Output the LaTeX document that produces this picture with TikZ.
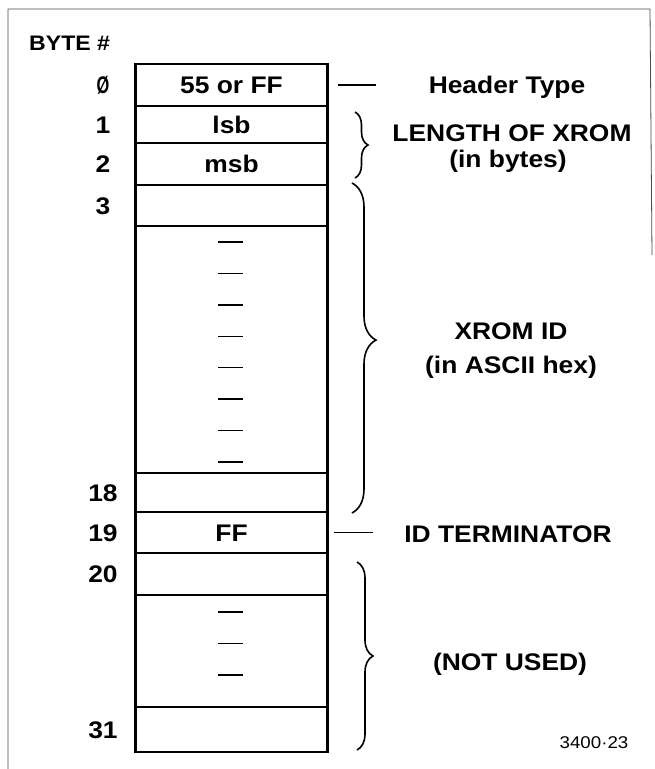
\documentclass[tikz,border=0pt]{standalone}
\usepackage{fontspec}
\setmainfont[FakeStretch=1.1]{Liberation Sans}
\usetikzlibrary{decorations.pathreplacing}
\begin{document}
\begin{tikzpicture}[x=1pt,y=-1pt,
  rowbox/.style={draw, line width=2.2pt, minimum width=192pt, inner sep=0pt,
    font=\bfseries\fontsize{24}{28}\selectfont, text height=17pt, text depth=0pt},
  lbl/.style={inner sep=0pt, font=\bfseries\fontsize{24}{28}\selectfont,
    text height=17pt, text depth=0pt},
  tick/.style={line width=1.4pt},
  lead/.style={line width=1.4pt},
  curly/.style={line width=1.6pt, decorate, decoration={brace, amplitude=#1}},
  frame/.style={line width=0.8pt, black!70}
]
\useasboundingbox (0,0) rectangle (654,769);
\fill[white] (0,0) rectangle (654,769);
% outer frame
\draw[frame] (8,769) -- (8,9) -- (650,9) -- (652,255);
% title
\node[lbl, font=\bfseries\fontsize{21}{24}\selectfont, text height=15pt, anchor=west] (byte) at (29,43) {BYTE \#};
% memory rows
\node[rowbox, minimum height=42pt] (r0) at (231.5,85) {55 or FF};
\node[rowbox, minimum height=37pt] (r1) at (231.5,124.5) {lsb};
\node[rowbox, minimum height=42pt] (r2) at (231.5,164) {msb};
\node[rowbox, minimum height=41pt] (r3) at (231.5,205.5) {};
\node[rowbox, minimum height=247pt] (d1) at (231.5,349.5) {};
\node[rowbox, minimum height=39pt] (r18) at (231.5,492.5) {};
\node[rowbox, minimum height=41pt] (r19) at (231.5,532.5) {FF};
\node[rowbox, minimum height=42pt] (r20) at (231.5,574) {};
\node[rowbox, minimum height=112pt] (d2) at (231.5,651) {};
\node[rowbox, minimum height=45pt] (r31) at (231.5,729.5) {};
% dashes
\foreach \y in {242,273.4,304.8,336.2,367.6,399,430.4,461.8}
  \draw[tick] (218,\y) -- (243,\y);
\foreach \y in {612,643.5,675}
  \draw[tick] (218,\y) -- (243,\y);
% byte numbers
\node[lbl] (n0) at (103,85) {\scalebox{0.62}[1]{Ø}};
\node[lbl] (n1) at (103,124.5) {1};
\node[lbl] (n2) at (103,164) {2};
\node[lbl] (n3) at (103,205.5) {3};
\node[lbl] (n18) at (103,492.5) {18};
\node[lbl] (n19) at (103,532.5) {19};
\node[lbl] (n20) at (103,574) {20};
\node[lbl] (n31) at (103,729.5) {31};
% right-hand labels
\node[lbl] (hdr) at (507,85) {Header Type};
\node[lbl] (len) at (512,133) {LENGTH OF XROM};
\node[lbl] (lenb) at (508,159) {(in bytes)};
\node[lbl] (xid) at (511,331) {XROM ID};
\node[lbl] (xidb) at (511,364.5) {(in ASCII hex)};
\node[lbl] (term) at (508,534) {ID TERMINATOR};
\node[lbl] (nu) at (510,662) {(NOT USED)};
\node[inner sep=0pt, font=\fontsize{17}{20}\selectfont, text height=12.2pt, text depth=0pt] (fig) at (594,742) {3400·23};
% leader lines
\draw[lead] ([xshift=9.5pt]r0.east) -- ([xshift=47.5pt]r0.east);
\draw[lead] ([xshift=5.5pt]r19.east) -- ([xshift=44.5pt]r19.east);
% braces
\draw[curly=13pt] (355,112) -- (355,178);
\draw[curly=24pt, decoration={aspect=0.476}] (352,183) -- (352,513);
\draw[curly=16pt] (357,562) -- (357,750);
\end{tikzpicture}
\end{document}
